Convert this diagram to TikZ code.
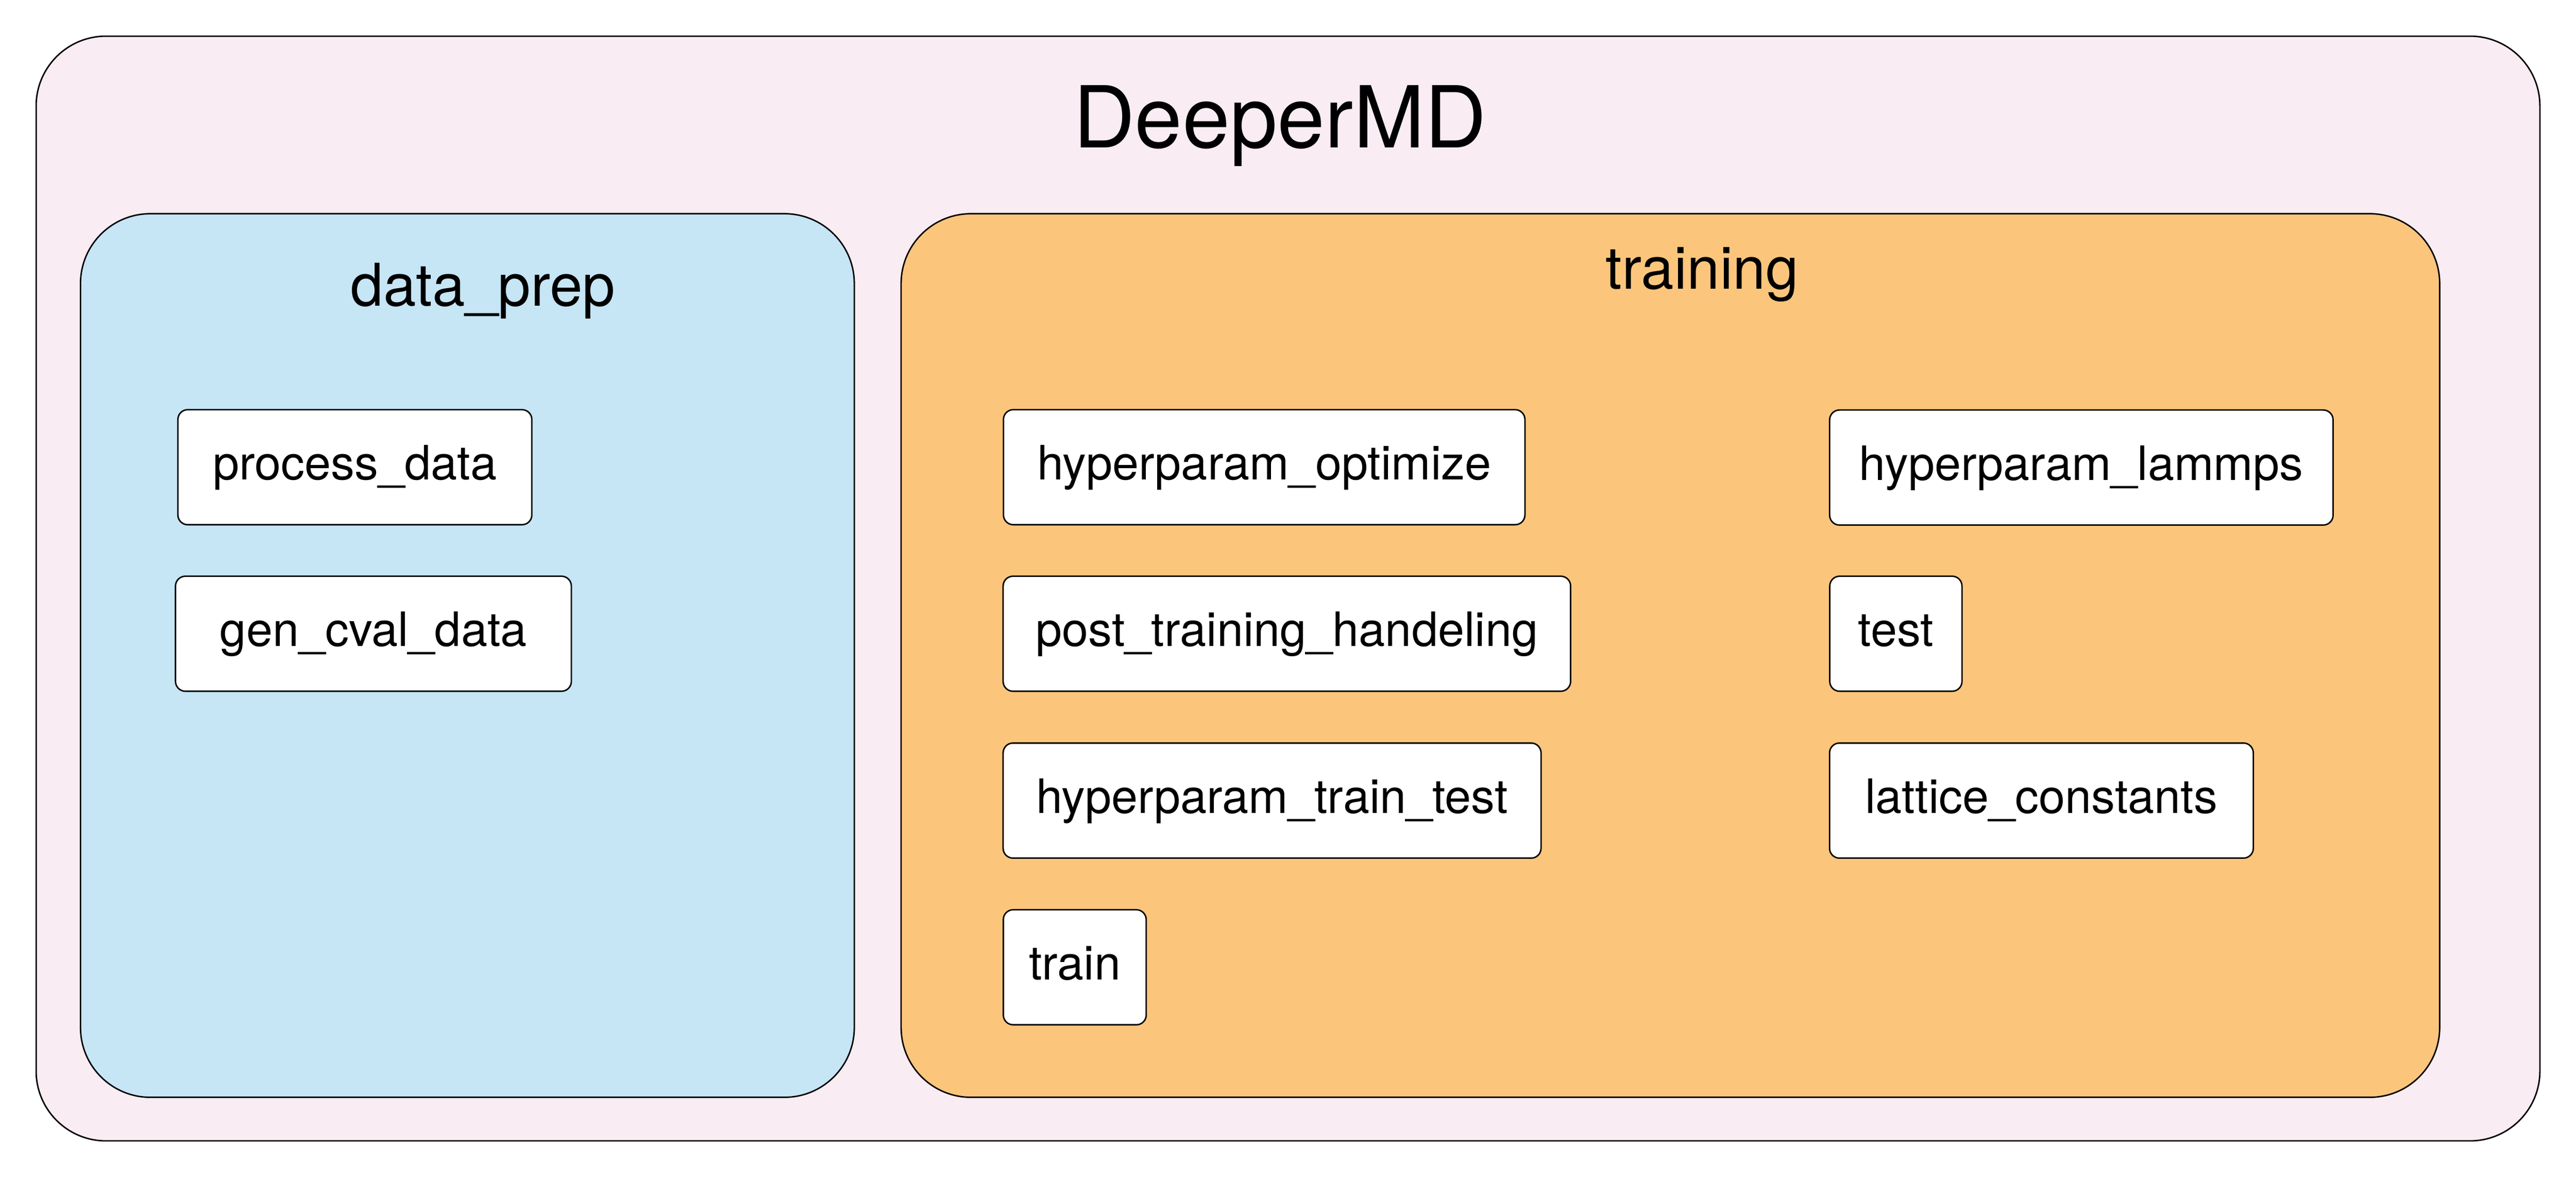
\documentclass[tikz,border=0pt]{standalone}
\usepackage{fontspec}
\setmainfont{TeX Gyre Heros}
\usetikzlibrary{positioning}

\definecolor{fondorosa}{RGB}{249,236,243}
\definecolor{azulprep}{RGB}{198,229,245}
\definecolor{naranjatrain}{RGB}{252,197,124}

\tikzset{
  marco/.style={draw=black, line width=0.5pt, rounded corners=0.85cm},
  modulo/.style={draw=black, fill=white, line width=0.5pt, rounded corners=0.12cm,
    minimum height=1.4cm, text height=0.42cm, text depth=0.116cm,
    font=\fontsize{16.4}{18}\selectfont},
  titulo/.style={anchor=base, font=\fontsize{29.6}{32}\selectfont},
  seccion/.style={anchor=base, font=\fontsize{20.4}{23}\selectfont}
}

\begin{document}
\begin{tikzpicture}[x=0.02cm,y=-0.02cm]
        % Paso 1: Fija el lienzo
        \useasboundingbox (0,0) rectangle (1568,717);

        % Paso 2: Dibuja el marco exterior y su titulo
        \draw[marco, fill=fondorosa] (22,22) rectangle (1546,694);
        \node[titulo] (deepermd) at (779,90) {DeeperMD};

        % Paso 3: Dibuja los dos paquetes
        \draw[marco, fill=azulprep] (49,130) rectangle (520,667.5);
        \node[seccion] (dataprep) at (294,186) {data\_prep};
        \draw[marco, fill=naranjatrain] (548.5,130) rectangle (1485,667.5);
        \node[seccion] (training) at (1036,175.7) {training};

        % Paso 4: Modulos de data_prep
        \node[modulo, minimum width=4.31cm] (processdata) at (216,284.2) {process\_data};
        \node[modulo, minimum width=4.82cm] (gencval) at (227.3,385.5) {gen\_cval\_data};

        % Paso 5: Modulos de training, columna izquierda
        \node[modulo, minimum width=6.35cm] (hpoptimize) at (769.5,284.2) {hyperparam\_optimize};
        \node[modulo, minimum width=6.91cm] (posttraining) at (783.3,385.5) {post\_training\_handeling};
        \node[modulo, minimum width=6.55cm] (hptraintest) at (774.3,487) {hyperparam\_train\_test};
        \node[modulo, minimum width=1.74cm] (train) at (654.2,588.4) {train};

        % Paso 6: Modulos de training, columna derecha
        \node[modulo, minimum width=6.13cm] (hplammps) at (1266.9,284.4) {hyperparam\_lammps};
        \node[modulo, minimum width=1.61cm] (test) at (1154,385.5) {test};
        \node[modulo, minimum width=5.16cm] (lattice) at (1242.6,487) {lattice\_constants};
\end{tikzpicture}
\end{document}
